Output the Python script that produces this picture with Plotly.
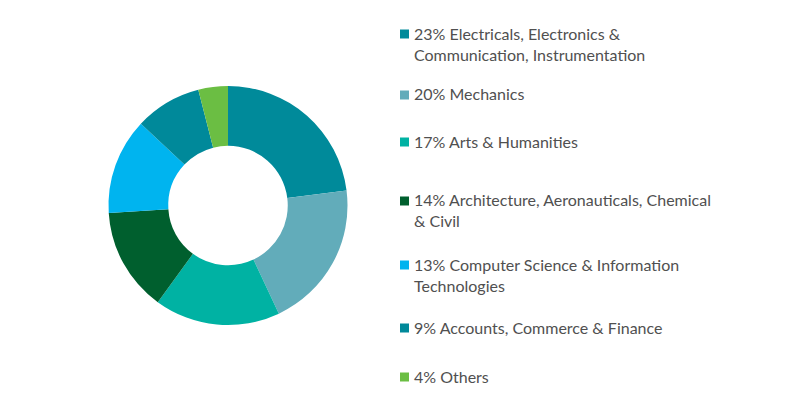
import plotly.graph_objects as go

# share of graduates per discipline (percent)
shares = [23, 20, 17, 14, 13, 9, 4]
labels = [
    "Electricals, Electronics &<br>Communication, Instrumentation",
    "Mechanics",
    "Arts & Humanities",
    "Architecture, Aeronauticals, Chemical<br>& Civil",
    "Computer Science & Information<br>Technologies",
    "Accounts, Commerce & Finance",
    "Others",
]
colors = ["#008A9A", "#62ACBA", "#00B2A3", "#005F2E", "#00B4EF", "#00899A", "#6BBE43"]

W, H = 800, 410
# pixel centre of the first text line of each legend entry
legend_y = [34, 95, 142, 201, 265, 328, 377]

fig = go.Figure(
    go.Pie(
        values=shares,
        labels=[l.replace("<br>", " ") for l in labels],
        marker=dict(colors=colors, line=dict(width=0)),
        hole=0.5,
        sort=False,
        direction="clockwise",
        rotation=0,
        textinfo="none",
        hoverinfo="label+percent",
        showlegend=False,
        domain=dict(x=[108.5 / W, 347.5 / W], y=[(H - 325) / H, (H - 86) / H]),
    )
)

# hand-made legend so the spacing matches
for s, lab, c, y in zip(shares, labels, colors, legend_y):
    fig.add_shape(
        type="rect", xref="paper", yref="paper",
        x0=400 / W, x1=409 / W, y0=1 - (y + 4.5) / H, y1=1 - (y - 4.5) / H,
        fillcolor=c, line=dict(width=0),
    )
    fig.add_annotation(
        x=412 / W, y=1 - (y - 12.5) / H, xref="paper", yref="paper",
        xanchor="left", yanchor="top", align="left", showarrow=False,
        text=f"{s}% {lab}",
        font=dict(family="Lato", size=16, color="#505050"),
    )

fig.update_layout(
    width=W, height=H,
    margin=dict(l=0, r=0, t=0, b=0),
    paper_bgcolor="white", plot_bgcolor="white",
)

# drop the browser's default body margin so the figure sits at 0,0
fig.write_html(
    "out.html",
    config={"displayModeBar": False},
    post_script="document.body.style.margin='0';",
)
